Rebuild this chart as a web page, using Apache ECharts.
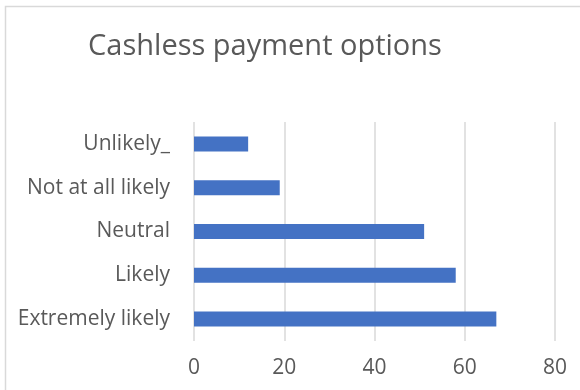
<!DOCTYPE html>
<html>
<head>
<meta charset="utf-8">
<script src="https://cdn.jsdelivr.net/npm/echarts@6/dist/echarts.min.js"></script>
<style>
  html, body { margin: 0; padding: 0; background: #fff; }
  #main { width: 580px; height: 390px; }
</style>
</head>
<body>
<div id="main"></div>
<script>
// categories top to bottom
const categories = ['Unlikely_', 'Not at all likely', 'Neutral', 'Likely', 'Extremely likely'];
const values = [12, 19, 51, 58, 67];
const xTicks = [0, 20, 40, 60, 80];

const chart = echarts.init(document.getElementById('main'));
const font = '"Open Sans", "Noto Sans", sans-serif';

chart.setOption({
  animation: false,
  title: {
    text: 'Cashless payment options',
    left: 260,
    textAlign: 'center',
    top: 27,
    textStyle: { fontFamily: font, fontSize: 29, fontWeight: 'normal', color: '#595959' }
  },
  graphic: [{
    type: 'rect',
    shape: { x: 5.5, y: 6.5, width: 590, height: 400 },
    style: { fill: 'none', stroke: '#d9d9d9', lineWidth: 1.5 },
    silent: true
  }],
  grid: { left: 194, right: 25, top: 122, bottom: 49 },
  xAxis: {
    type: 'value',
    min: xTicks[0],
    max: xTicks[xTicks.length - 1],
    interval: 20,
    axisLine: { show: false },
    axisTick: { show: false },
    axisLabel: { margin: 17, fontFamily: font, fontSize: 21, color: '#595959' },
    splitLine: { lineStyle: { color: '#d9d9d9', width: 1.5 } }
  },
  yAxis: {
    type: 'category',
    data: categories,
    inverse: true,
    axisLine: { show: false },
    axisTick: { show: false },
    axisLabel: { margin: 24, fontFamily: font, fontSize: 21, color: '#595959' }
  },
  series: [{
    type: 'bar',
    data: values,
    barWidth: 15,
    itemStyle: { color: '#4472c4' }
  }]
});
</script>
</body>
</html>
